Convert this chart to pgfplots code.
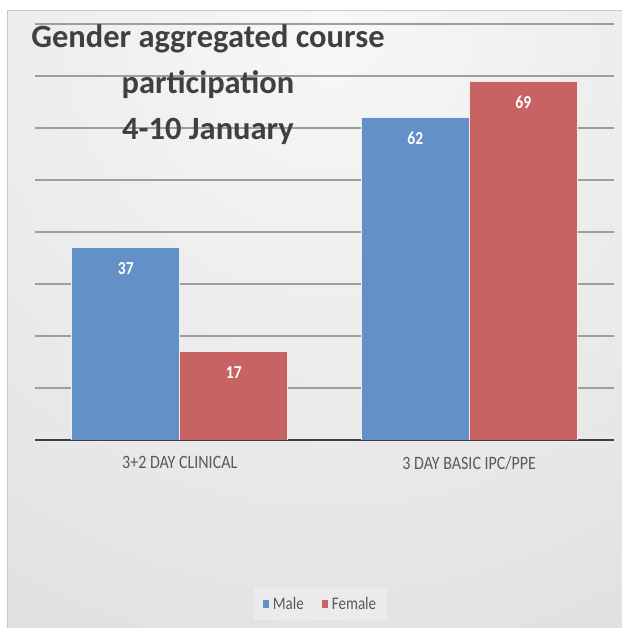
\documentclass[border=0pt]{standalone}
\usepackage{pgfplots}
\pgfplotsset{compat=1.18}
\usepackage{fontspec}
\setmainfont{Carlito}
\definecolor{maleblue}{HTML}{6391C7}
\definecolor{femred}{HTML}{C86364}
\definecolor{titlegray}{HTML}{404040}
\definecolor{labgray}{HTML}{595959}
\newcommand{\vs}[1]{\scalebox{1}[1.18]{#1}}
\begin{document}
\begin{tikzpicture}
\useasboundingbox (0,0) rectangle (622bp,628bp);
\fill[white] (0,0) rectangle (622bp,628bp);
\begin{scope}
\clip (7bp,0) rectangle (622bp,617bp);
\shade[inner color=white!97!black, outer color=black!20] (330bp,600bp) circle (1300bp);
\end{scope}
\draw[black!22, line width=1bp] (7bp,-1bp) -- (7bp,617bp) -- (623bp,617bp);
\begin{axis}[
  at={(35bp,188bp)}, anchor=south west,
  scale only axis, width=579bp, height=416bp,
  ybar=0pt, bar width=108bp,
  xmin=-0.5, xmax=1.5, ymin=0, ymax=80,
  xtick={0,1}, xticklabels={\vs{3+2 DAY CLINICAL}, \vs{3 DAY BASIC IPC/PPE}},
  ytick={10,20,...,80}, yticklabels={},
  major tick length=0pt,
  ymajorgrids, grid style={black!38, line width=1.3bp},
  axis x line*=bottom, axis y line*=left,
  x axis line style={black!75, line width=2.5bp, -},
  y axis line style={draw=none},
  xticklabel style={font=\fontsize{16bp}{19bp}\selectfont, text=labgray, yshift=-13bp},
  nodes near coords={\vs{\pgfmathprintnumber[assume math mode=true]{\pgfplotspointmeta}}},
  every node near coord/.append style={anchor=center, yshift=-21bp, text=white, font=\fontsize{15.5bp}{18bp}\selectfont\bfseries},
  legend columns=2,
  legend style={at={(axis description cs:0.493,-0.394)}, anchor=center, draw=none, fill=black!8,
    font=\fontsize{15bp}{18bp}\selectfont, text=labgray, inner xsep=8bp, inner ysep=7bp,
    /tikz/every even column/.append style={column sep=14bp},
    /tikz/every odd column/.append style={column sep=0bp},
    nodes={inner xsep=3bp}},
  legend image code/.code={\fill[#1] (0bp,-4.5bp) rectangle (7.5bp,4.5bp);},
]
\addplot[fill=maleblue, draw=white!85!maleblue, line width=0.6bp] coordinates {(0,37) (1,62)};
\addplot[fill=femred, draw=white!85!femred, line width=0.6bp] coordinates {(0,17) (1,69)};
\legend{\vs{Male}, \vs{Female}}
\end{axis}
\node[anchor=base, text=titlegray, font=\fontsize{32.5bp}{36bp}\selectfont\bfseries] at (208bp,580bp) {Gender aggregated course};
\node[anchor=base, text=titlegray, font=\fontsize{32.5bp}{36bp}\selectfont\bfseries] at (208bp,534bp) {participation};
\node[anchor=base, text=titlegray, font=\fontsize{32.5bp}{36bp}\selectfont\bfseries] at (208bp,488bp) {4-10 January};
\end{tikzpicture}
\end{document}
